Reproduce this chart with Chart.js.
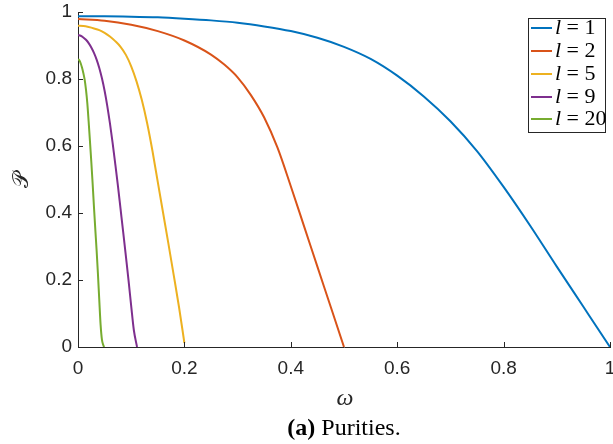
<!DOCTYPE html>
<html>
<head>
<meta charset="utf-8">
<script src="https://cdn.jsdelivr.net/npm/chart.js@4"></script>
<style>
  html, body { margin: 0; padding: 0; background: #ffffff; }
  #wrap { width: 613px; height: 444px; }
</style>
</head>
<body>
<div id="wrap"><canvas id="c" width="613" height="444"></canvas></div>
<script>
// ---- data ----
const seriesLabels = ['1', '2', '5', '9', '20'];
const seriesColors = ['#0072BD', '#D95319', '#EDB120', '#7E2F8E', '#77AC30'];

const omega1  = [0, 0.05, 0.1, 0.15, 0.2, 0.25, 0.3, 0.35, 0.4, 0.45, 0.5, 0.55, 0.6, 0.65, 0.7, 0.75, 0.8, 0.85, 0.9, 0.95, 1];
const purity1 = [0.987, 0.987, 0.986, 0.984, 0.980, 0.975, 0.968, 0.957, 0.943, 0.923, 0.896, 0.860, 0.810, 0.748, 0.674, 0.585, 0.478, 0.362, 0.240, 0.120, 0];

const omega2  = [0, 0.05, 0.1, 0.15, 0.2, 0.25, 0.275, 0.3, 0.325, 0.35, 0.375, 0.4, 0.425, 0.45, 0.475, 0.5];
const purity2 = [0.979, 0.974, 0.962, 0.943, 0.915, 0.873, 0.843, 0.805, 0.752, 0.685, 0.595, 0.480, 0.360, 0.240, 0.120, 0];

const omega5  = [0, 0.01, 0.02, 0.03, 0.04, 0.05, 0.06, 0.07, 0.08, 0.09, 0.1, 0.11, 0.12, 0.13, 0.14, 0.15, 0.16, 0.17, 0.18, 0.19, 0.2];
const purity5 = [0.959, 0.958, 0.955, 0.951, 0.946, 0.938, 0.927, 0.913, 0.896, 0.872, 0.838, 0.793, 0.737, 0.668, 0.585, 0.492, 0.400, 0.308, 0.214, 0.118, 0.012];

const omega9  = [0, 0.005, 0.01, 0.015, 0.02, 0.025, 0.03, 0.035, 0.04, 0.045, 0.05, 0.055, 0.06, 0.065, 0.07, 0.075, 0.08, 0.085, 0.09, 0.095, 0.1, 0.105, 0.111];
const purity9 = [0.931, 0.929, 0.924, 0.917, 0.907, 0.894, 0.878, 0.858, 0.833, 0.802, 0.765, 0.720, 0.668, 0.610, 0.547, 0.482, 0.412, 0.342, 0.271, 0.199, 0.122, 0.050, 0];

const omega20  = [0, 0.0025, 0.005, 0.0075, 0.01, 0.0125, 0.015, 0.0175, 0.02, 0.0225, 0.025, 0.0275, 0.03, 0.0325, 0.035, 0.0375, 0.04, 0.0425, 0.045, 0.0475, 0.049];
const purity20 = [0.859, 0.856, 0.847, 0.834, 0.818, 0.798, 0.768, 0.728, 0.673, 0.614, 0.553, 0.488, 0.418, 0.352, 0.288, 0.217, 0.140, 0.066, 0.022, 0.006, 0];

const xTickLabels = ['0', '0.2', '0.4', '0.6', '0.8', '1'];
const yTickLabels = ['0', '0.2', '0.4', '0.6', '0.8', '1'];
const xTitle = 'ω';
const yTitle = '𝒫';
const captionBold = '(a)';
const captionText = 'Purities.';

// ---- build ----
const omegas = [omega1, omega2, omega5, omega9, omega20];
const purities = [purity1, purity2, purity5, purity9, purity20];
const AXIS = '#262626';
const TICKFONT = { family: 'Liberation Sans, Arial, sans-serif', size: 19 };

const datasets = omegas.map((xs, i) => ({
  label: 'l = ' + seriesLabels[i],
  data: xs.map((x, j) => ({ x: x, y: purities[i][j] })),
  borderColor: seriesColors[i],
  backgroundColor: seriesColors[i],
  borderWidth: 2,
  pointRadius: 0,
  fill: false,
  cubicInterpolationMode: 'monotone'
}));

function tickIndex(v) { return Math.round(v / 0.2); }

const decor = {
  id: 'decor',
  afterDraw(chart) {
    const ctx = chart.ctx;
    const xs = chart.scales.x, ys = chart.scales.y;
    const area = chart.chartArea;
    ctx.save();
    // inward tick marks
    ctx.strokeStyle = AXIS;
    ctx.lineWidth = 1;
    xs.ticks.forEach(t => {
      const px = Math.round(xs.getPixelForValue(t.value)) + 0.5;
      ctx.beginPath(); ctx.moveTo(px, area.bottom); ctx.lineTo(px, area.bottom - 5); ctx.stroke();
    });
    ys.ticks.forEach(t => {
      const py = Math.round(ys.getPixelForValue(t.value)) + 0.5;
      ctx.beginPath(); ctx.moveTo(area.left, py); ctx.lineTo(area.left + 5, py); ctx.stroke();
    });

    const cx = (area.left + area.right) / 2;
    // x title
    ctx.fillStyle = AXIS;
    ctx.font = 'italic 24px "Liberation Serif", "DejaVu Serif", serif';
    ctx.textAlign = 'center';
    ctx.textBaseline = 'middle';
    ctx.fillText(xTitle, cx + 1, 399);

    // y title
    ctx.save();
    ctx.translate(22, 180);
    ctx.rotate(-Math.PI / 2);
    ctx.font = '22px "DejaVu Serif", "DejaVu Sans", serif';
    ctx.fillText(yTitle, 0, 0);
    ctx.restore();

    // caption
    ctx.fillStyle = '#000000';
    ctx.textBaseline = 'alphabetic';
    ctx.textAlign = 'left';
    ctx.font = 'bold 24px "Liberation Serif", serif';
    const wb = ctx.measureText(captionBold + ' ').width;
    ctx.font = '24px "Liberation Serif", serif';
    const wt = ctx.measureText(captionText).width;
    let x0 = cx - (wb + wt) / 2;
    ctx.font = 'bold 24px "Liberation Serif", serif';
    ctx.fillText(captionBold + ' ', x0, 435);
    ctx.font = '24px "Liberation Serif", serif';
    ctx.fillText(captionText, x0 + wb, 435);

    // legend
    const lx = 528.5, ly = 18.5, lw = 77, lh = 114;
    ctx.fillStyle = '#ffffff';
    ctx.fillRect(lx, ly, lw, lh);
    ctx.strokeStyle = '#262626';
    ctx.lineWidth = 1;
    ctx.strokeRect(lx, ly, lw, lh);
    const rows = [28, 51, 74, 97, 119];
    datasets.forEach((d, i) => {
      const ry = rows[i];
      ctx.strokeStyle = seriesColors[i];
      ctx.lineWidth = 2;
      ctx.beginPath(); ctx.moveTo(531, ry); ctx.lineTo(552, ry); ctx.stroke();
      ctx.fillStyle = '#000000';
      ctx.textBaseline = 'middle';
      ctx.font = 'italic 22px "Liberation Serif", serif';
      ctx.fillText('l', 555, ry);
      const wl = ctx.measureText('l').width;
      ctx.font = '22px "Liberation Serif", serif';
      ctx.fillText(' = ' + seriesLabels[i], 555 + wl, ry);
    });
    ctx.restore();
  }
};

new Chart(document.getElementById('c'), {
  type: 'line',
  data: { datasets: datasets },
  options: {
    responsive: false,
    animation: false,
    layout: { padding: { top: 12, right: 3, left: 0, bottom: 0 } },
    plugins: { legend: { display: false }, tooltip: { enabled: false }, title: { display: false } },
    scales: {
      x: {
        type: 'linear', min: 0, max: 1,
        ticks: {
          stepSize: 0.2, color: AXIS, font: TICKFONT, padding: 10, maxRotation: 0,
          callback: (v) => xTickLabels[tickIndex(v)]
        },
        grid: { display: true, drawOnChartArea: false, drawTicks: false, color: AXIS },
        border: { display: true, color: AXIS, width: 1 },
        afterFit: (s) => { s.height = 97; s.paddingLeft = 0; s.paddingRight = 0; }
      },
      y: {
        type: 'linear', min: 0, max: 1,
        ticks: {
          stepSize: 0.2, color: AXIS, font: TICKFONT, padding: 6,
          callback: (v) => yTickLabels[tickIndex(v)]
        },
        grid: { display: true, drawOnChartArea: false, drawTicks: false, color: AXIS },
        border: { display: true, color: AXIS, width: 1 },
        afterFit: (s) => { s.width = 78; s.paddingTop = 0; s.paddingBottom = 0; }
      }
    }
  },
  plugins: [decor]
});
</script>
</body>
</html>
